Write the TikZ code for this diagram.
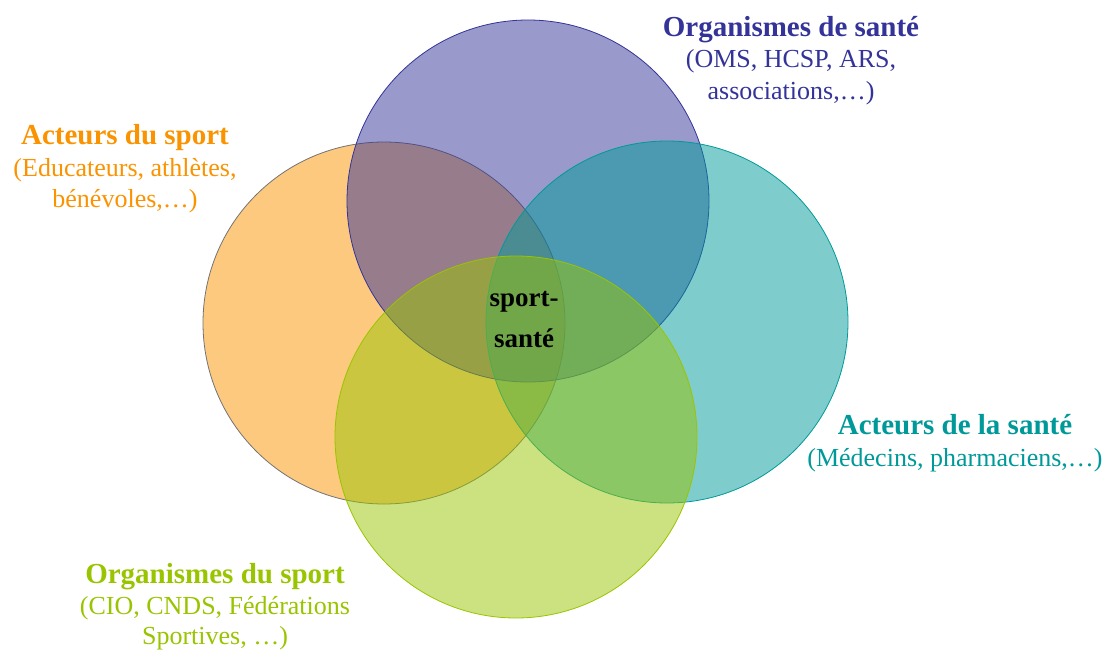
\documentclass[tikz,border=0pt]{standalone}
\usepackage{fontspec}
\setmainfont{Liberation Serif}
\usetikzlibrary{positioning}
\definecolor{sportOrange}{RGB}{251,147,0}
\definecolor{santeBlue}{RGB}{51,51,153}
\definecolor{santeTeal}{RGB}{0,153,153}
\definecolor{sportGreen}{RGB}{153,196,0}

\begin{document}
\begin{tikzpicture}[
    x=1pt, y=-1pt,
    ring/.style={%
      circle,
      minimum size=362pt,
      inner sep=0pt,
      fill opacity=0.5,
      line width=0.8pt,
    },
    label/.style={%
      align=center,
      font=\fontsize{26}{31.5}\selectfont,
    },
  ]

    \useasboundingbox (0,0) rectangle (1108,650);

    \node [ring, fill=sportOrange, draw=black!55] (AS) at (384,323) {};
    \node [ring, fill=santeBlue, draw=santeBlue] (OSa) at (528,201) {};
    \node [ring, fill=santeTeal, draw=santeTeal] (ASa) at (667,322) {};
    \node [ring, fill=sportGreen, draw=sportGreen] (OSp) at (516,437) {};

    \node [align=center, font=\bfseries\fontsize{27}{41}\selectfont] (C) at (524,320) {sport-\\sant\'e};

    \node [label, text=santeBlue] (tOSa) at (791,60.5)
      {\textbf{\fontsize{29}{31.5}\selectfont Organismes de sant\'e}\\(OMS, HCSP, ARS,\\associations,\dots)};
    \node [label, text=sportOrange] (tAS) at (125,169)
      {\textbf{\fontsize{29}{31.5}\selectfont Acteurs du sport}\\(Educateurs, athl\`etes,\\b\'en\'evoles,\dots)};
    \node [label, text=santeTeal] (tASa) at (955,443)
      {\textbf{\fontsize{29}{31.5}\selectfont Acteurs de la sant\'e}\\(M\'edecins, pharmaciens,\dots)};
    \node [label, text=sportGreen, font=\fontsize{26}{30.5}\selectfont] (tOSp) at (215,607)
      {\textbf{\fontsize{29}{30.5}\selectfont Organismes du sport}\\(CIO, CNDS, F\'ed\'erations\\Sportives, \dots)};

\end{tikzpicture}
\end{document}
